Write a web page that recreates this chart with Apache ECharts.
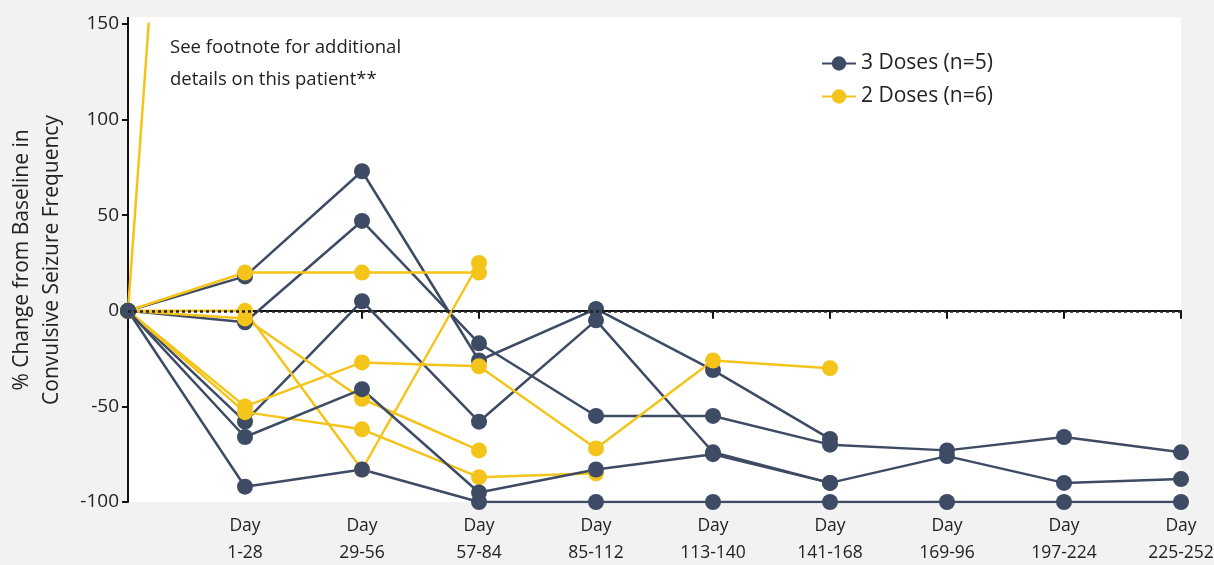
<!DOCTYPE html>
<html>
<head>
<meta charset="utf-8">
<script src="https://cdn.jsdelivr.net/npm/echarts@6/dist/echarts.min.js"></script>
<style>
  html, body { margin: 0; padding: 0; background: #f2f2f2; }
  #chart { width: 1214px; height: 565px; }
</style>
</head>
<body>
<div id="chart"></div>
<script>
// Visit windows (first slot is the baseline, left unlabelled)
const categories = ['', 'Day\n1-28', 'Day\n29-56', 'Day\n57-84', 'Day\n85-112', 'Day\n113-140',
  'Day\n141-168', 'Day\n169-96', 'Day\n197-224', 'Day\n225-252'];
const yTicks = { min: -100, max: 150, interval: 50 };

// % change from baseline, one array per patient
const threeDose1 = [0, 18, 73, -26, 1, -31, -67];
const threeDose2 = [0, -6, 47, -17, -55, -55, -70, -73, -66, -74];
const threeDose3 = [0, -58, 5, -58, -5, -74, -90];
const threeDose4 = [0, -66, -41, -95, -83, -75, -90, -76, -90, -88];
const threeDose5 = [0, -92, -83, -100, -100, -100, -100, -100, -100, -100];

const twoDoseA = [0, 20, 20, 20];
const twoDoseB = [0, 0, -83, 25];
const twoDoseC = [0, -50, -27, -29, -72, -26, -30];
const twoDoseD = [0, -4, -46, -73];
const twoDoseE = [0, -53, -62, -87, -85];
const twoDoseF = [0, 850];

const THREE = '3 Doses (n=5)';
const TWO = '2 Doses (n=6)';
const NAVY = '#3e4b64';
const GOLD = '#f4c41a';
const FONT = '"Open Sans"';

function patient(name, color, values) {
  return {
    type: 'line',
    name: name,
    data: values,
    symbol: 'circle',
    symbolSize: 16,
    clip: true,
    itemStyle: { color: color },
    lineStyle: { color: color, width: 2.5 },
    emphasis: { disabled: true }
  };
}

const series = [
  patient(THREE, NAVY, threeDose1),
  patient(THREE, NAVY, threeDose2),
  patient(THREE, NAVY, threeDose3),
  patient(TWO, GOLD, twoDoseA),
  patient(TWO, GOLD, twoDoseB),
  patient(TWO, GOLD, twoDoseC),
  patient(TWO, GOLD, twoDoseD),
  patient(TWO, GOLD, twoDoseE),
  patient(TWO, GOLD, twoDoseF),
  patient(THREE, NAVY, threeDose4),
  patient(THREE, NAVY, threeDose5)
];

// dotted reference line at 0 %
series[0].markLine = {
  silent: true,
  symbol: 'none',
  label: { show: false },
  lineStyle: { color: '#222', width: 2.5, type: [3, 3] },
  data: [{ yAxis: 0 }]
};

const chart = echarts.init(document.getElementById('chart'));
chart.setOption({
  animation: false,
  backgroundColor: '#f2f2f2',
  textStyle: { fontFamily: FONT },
  grid: { left: 128, right: 33, top: 24, bottom: 63, outerBoundsMode: 'none', containLabel: false },
  graphic: [
    { type: 'rect', left: 128, top: 17, z: -10, silent: true,
      shape: { width: 1053, height: 485 }, style: { fill: '#ffffff' } },
    { type: 'line', silent: true, z: 5,
      shape: { x1: 128, y1: 17, x2: 128, y2: 24 }, style: { stroke: '#111', lineWidth: 2 } },
    { type: 'text', left: 170, top: 32, silent: true,
      style: { text: 'See footnote for additional\ndetails on this patient**',
        font: '18.5px ' + FONT, fill: '#222', lineHeight: 32 } }
  ],
  legend: {
    data: [THREE, TWO],
    orient: 'vertical',
    left: 816,
    top: 48,
    itemWidth: 34,
    itemHeight: 18,
    itemGap: 12,
    textStyle: { fontSize: 21, lineHeight: 18, color: '#222', fontFamily: FONT }
  },
  xAxis: {
    type: 'category',
    data: categories,
    boundaryGap: false,
    axisLine: { lineStyle: { color: '#111', width: 2 } },
    axisTick: { length: 8, lineStyle: { color: '#111', width: 2 } },
    axisLabel: { color: '#222', fontSize: 17.5, lineHeight: 27, margin: 11, interval: 0 },
    splitLine: { show: false }
  },
  yAxis: {
    type: 'value',
    min: yTicks.min,
    max: yTicks.max,
    interval: yTicks.interval,
    name: '% Change from Baseline in\nConvulsive Seizure Frequency',
    nameLocation: 'middle',
    nameGap: 61,
    nameTextStyle: { fontSize: 21, lineHeight: 30, color: '#222', padding: [0, 0, 0, 6] },
    axisLine: { show: true, lineStyle: { color: '#111', width: 2 } },
    axisTick: { show: true, length: 6, lineStyle: { color: '#111', width: 2 } },
    axisLabel: { color: '#222', fontSize: 19, margin: 9 },
    splitLine: { show: false }
  },
  series: series
});
</script>
</body>
</html>
